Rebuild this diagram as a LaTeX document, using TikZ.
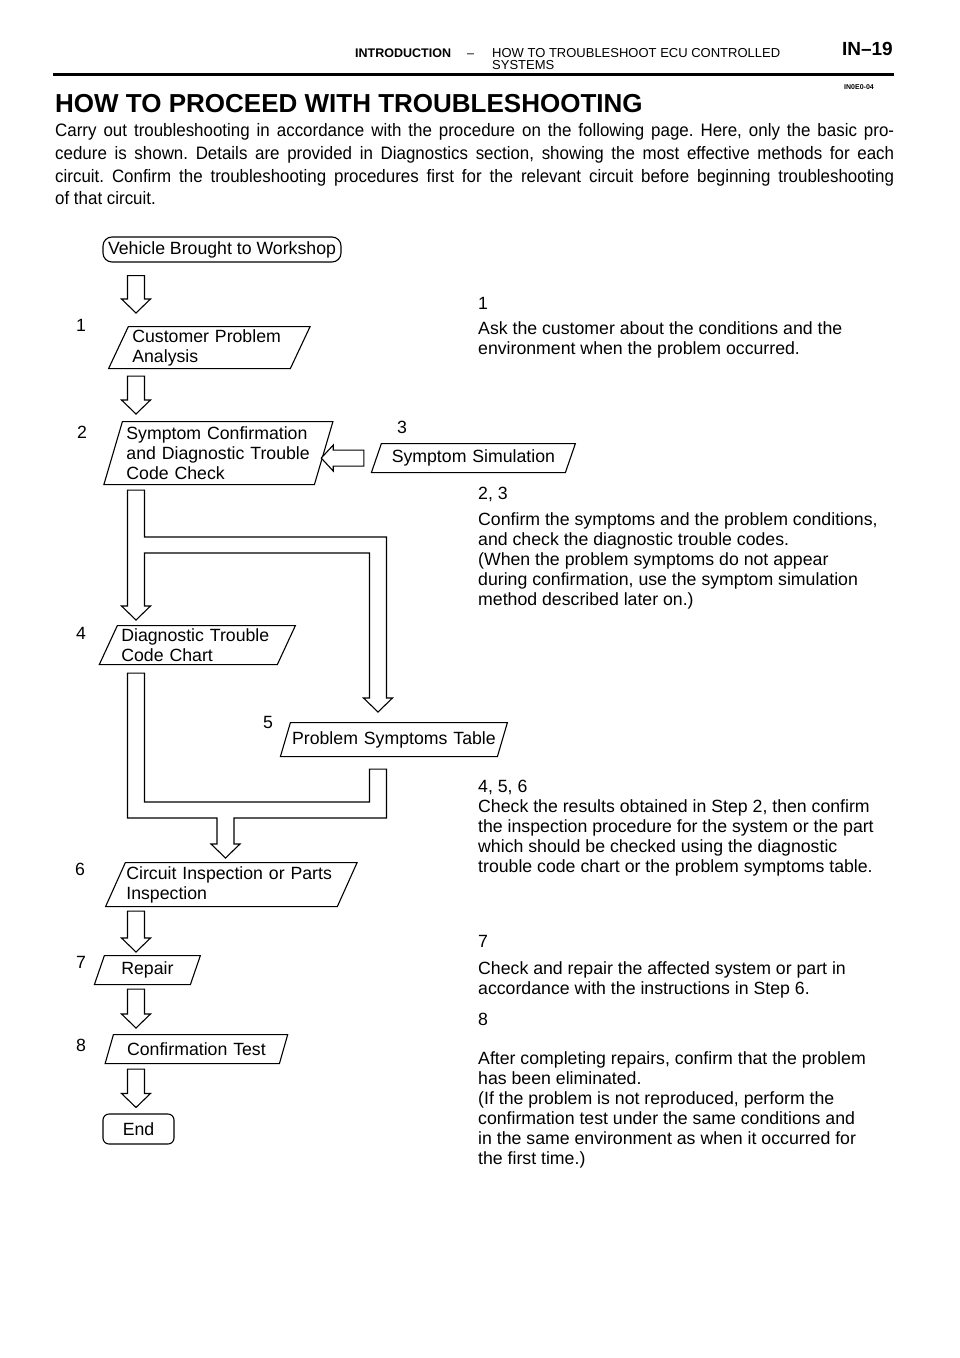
\documentclass[tikz,border=0pt]{standalone}
\usepackage{fontspec}
\setmainfont{Liberation Sans}
\newfontfamily\condfont[FakeStretch=0.94]{Liberation Sans}
\usetikzlibrary{calc,shapes.geometric,positioning}
\frenchspacing

\newcommand{\hollowdown}[2]{\draw[myhollow] let \p1=(#1), \p2=(#2) in
  (\x1-8.5pt,\y1) -- (\x1+8.5pt,\y1) -- (\x1+8.5pt,\y2+14pt) -- (\x1+14.5pt,\y2+14pt)
  -- (\x1,\y2) -- (\x1-14.5pt,\y2+14pt) -- (\x1-8.5pt,\y2+14pt) -- cycle;}
\newcommand{\hollowleft}[2]{\draw[myhollow] let \p1=(#1), \p2=(#2) in
  (\x1,\y1+8pt) -- (\x2+12pt,\y1+8pt) -- (\x2+12pt,\y1+13pt) -- (\x2,\y1)
  -- (\x2+12pt,\y1-13pt) -- (\x2+12pt,\y1-8pt) -- (\x1,\y1-8pt) -- cycle;}

\begin{document}
\begin{tikzpicture}[x=1pt,y=-1pt,
  mystep/.style={draw,line width=1.1pt,trapezium,trapezium left angle=64,trapezium right angle=116,
    trapezium stretches=true,inner xsep=4pt,inner ysep=2pt,anchor=top left corner,align=left,
    font=\fontsize{17.7}{20}\selectfont},
  myend/.style={draw,line width=1.1pt,rounded corners=#1,inner sep=0pt,font=\fontsize{17.7}{20}\selectfont},
  mynum/.style={inner sep=0pt,font=\fontsize{17.7}{20}\selectfont},
  mytext/.style={inner sep=0pt,anchor=base west,align=left,font=\fontsize{17.7}{20}\selectfont},
  myhollow/.style={draw,line width=1.1pt,fill=white,line join=miter}
]
\path[fill=white,use as bounding box] (0,0) rectangle (960,1358);

\node[mytext,font=\bfseries\fontsize{12.5}{14}\selectfont] (intro) at (355,57) {INTRODUCTION};
\node[mytext,font=\fontsize{12.5}{14}\selectfont] (dash) at (467,57) {--};
\node[mytext,font=\fontsize{13}{12}\selectfont] (sect) at (492,69) {HOW TO TROUBLESHOOT ECU CONTROLLED\\SYSTEMS};
\node[mytext,anchor=base east,font=\bfseries\fontsize{19}{20}\selectfont] (page) at (893,55) {IN--19};
\draw[line width=2.5pt] (53,74.5) -- (894,74.5);
\node[mynum,font=\bfseries\fontsize{7}{8}\selectfont] (code) at (859,87) {IN0E0-04};
\node[mytext,font=\bfseries\fontsize{26}{28}\selectfont] (title) at (55,112) {HOW TO PROCEED WITH TROUBLESHOOTING};
\node[mytext,text width=839pt,align=justify,font=\condfont\fontsize{18}{22.8}\selectfont] (intro-par) at (55,136.5)
  {Carry out troubleshooting in accordance with the procedure on the following page. Here, only the basic pro-\linebreak
   cedure is shown. Details are provided in Diagnostics section, showing the most effective methods for each\linebreak
   circuit. Confirm the troubleshooting procedures first for the relevant circuit before beginning troubleshooting\linebreak
   of that circuit.};

\coordinate (col) at (136,0);
\coordinate (rcol) at (378,0);
\coordinate (mcol) at (225.5,0);
\coordinate (split) at (136,545);
\coordinate (join) at (225.5,810);

\node[myend=9pt,minimum width=238pt,minimum height=25pt] (veh) at (222,249.5) {Vehicle Brought to Workshop};
\node[mystep,minimum height=42pt,text width=154pt] (cust) at (128,326) {Customer Problem\\Analysis};
\node[mystep,minimum height=63pt,text width=184pt,trapezium left angle=72,trapezium right angle=108] (chk) at (122,421)
  {Symptom Confirmation\\and Diagnostic Trouble\\Code Check};
\node[mystep,minimum height=29pt,text width=176pt,align=center] (sim) at (381,443) {Symptom Simulation};
\node[mystep,minimum height=39pt,text width=152pt] (dtc) at (117,625) {Diagnostic Trouble\\Code Chart};
\node[mystep,minimum height=34pt,text width=205pt,inner xsep=1pt,align=center] (pst) at (290,722) {Problem Symptoms Table};
\node[mystep,minimum height=44pt,text width=210pt,inner xsep=1pt] (cip) at (125,862) {Circuit Inspection or Parts\\Inspection};
\node[mystep,minimum height=29pt,text width=78pt,align=center] (rep) at (104,955) {Repair};
\node[mystep,minimum height=29pt,text width=158pt,align=center] (cft) at (113,1034) {Confirmation Test};
\node[myend=6pt,minimum width=71pt,minimum height=30pt] (fin) at (138.5,1129) {End};

\node[mynum] (n1) at (81,325) {1};
\node[mynum] (n2) at (82,432) {2};
\node[mynum] (n3) at (402,427) {3};
\node[mynum] (n4) at (81,633) {4};
\node[mynum] (n5) at (268,722) {5};
\node[mynum] (n6) at (80,869) {6};
\node[mynum] (n7) at (81,962) {7};
\node[mynum] (n8) at (81,1045) {8};

\hollowdown{$(veh.south -| col)+(0,13)$}{$(cust.north -| col)+(0,-13)$}
\hollowdown{$(cust.south -| col)+(0,7)$}{$(chk.north -| col)+(0,-7)$}
\hollowleft{$(sim.west)+(-12,0)$}{$(sim.west -| chk.east)+(-3,0)$}
\draw[myhollow] let \p1=($(chk.south -| col)+(0,5)$), \p2=($(dtc.north -| col)+(0,-5)$),
  \p3=($(pst.north -| rcol)+(0,-10)$), \p4=(split) in
  (\x1-8.5pt,\y1) -- (\x1+8.5pt,\y1) -- (\x1+8.5pt,\y4+8pt) -- (\x3+8.5pt,\y4+8pt)
  -- (\x3+8.5pt,\y3+14pt) -- (\x3+14.5pt,\y3+14pt) -- (\x3,\y3) -- (\x3-14.5pt,\y3+14pt)
  -- (\x3-8.5pt,\y3+14pt) -- (\x3-8.5pt,\y4-8pt) -- (\x1+8.5pt,\y4-8pt)
  -- (\x2+8.5pt,\y2+14pt) -- (\x2+14.5pt,\y2+14pt) -- (\x2,\y2) -- (\x2-14.5pt,\y2+14pt)
  -- (\x2-8.5pt,\y2+14pt) -- cycle;
\draw[myhollow] let \p1=($(dtc.south -| col)+(0,8)$), \p2=($(pst.south -| rcol)+(0,12)$),
  \p3=($(cip.north -| mcol)+(0,-4)$), \p4=(join) in
  (\x1-8.5pt,\y1) -- (\x1+8.5pt,\y1) -- (\x1+8.5pt,\y4+8pt) -- (\x2-8.5pt,\y4+8pt)
  -- (\x2-8.5pt,\y2) -- (\x2+8.5pt,\y2) -- (\x2+8.5pt,\y4-8pt) -- (\x4+8.5pt,\y4-8pt)
  -- (\x4+8.5pt,\y3+14pt) -- (\x4+14.5pt,\y3+14pt) -- (\x3,\y3) -- (\x4-14.5pt,\y3+14pt)
  -- (\x4-8.5pt,\y3+14pt) -- (\x4-8.5pt,\y4-8pt) -- (\x1-8.5pt,\y4-8pt) -- cycle;
\hollowdown{$(cip.south -| col)+(0,4)$}{$(rep.north -| col)+(0,-3)$}
\hollowdown{$(rep.south -| col)+(0,4)$}{$(cft.north -| col)+(0,-6)$}
\hollowdown{$(cft.south -| col)+(0,5)$}{$(fin.north -| col)+(0,-6)$}

\node[mytext] (hd1) at (478,309) {1};
\node[mytext] (tx1) at (478,354) {Ask the customer about the conditions and the\\environment when the problem occurred.};
\node[mytext] (hd23) at (478,499) {2, 3};
\node[mytext] (tx23) at (478,605) {Confirm the symptoms and the problem conditions,\\and check the diagnostic trouble codes.\\
  (When the problem symptoms do not appear\\during confirmation, use the symptom simulation\\method described later on.)};
\node[mytext] (hd456) at (478,792) {4, 5, 6};
\node[mytext] (tx456) at (478,872) {Check the results obtained in Step 2, then confirm\\the inspection procedure for the system or the part\\
  which should be checked using the diagnostic\\trouble code chart or the problem symptoms table.};
\node[mytext] (hd7) at (478,947) {7};
\node[mytext] (tx7) at (478,994) {Check and repair the affected system or part in\\accordance with the instructions in Step 6.};
\node[mytext] (hd8) at (478,1025) {8};
\node[mytext] (tx8) at (478,1164) {After completing repairs, confirm that the problem\\has been eliminated.\\
  (If the problem is not reproduced, perform the\\confirmation test under the same conditions and\\
  in the same environment as when it occurred for\\the first time.)};
\end{tikzpicture}
\end{document}
